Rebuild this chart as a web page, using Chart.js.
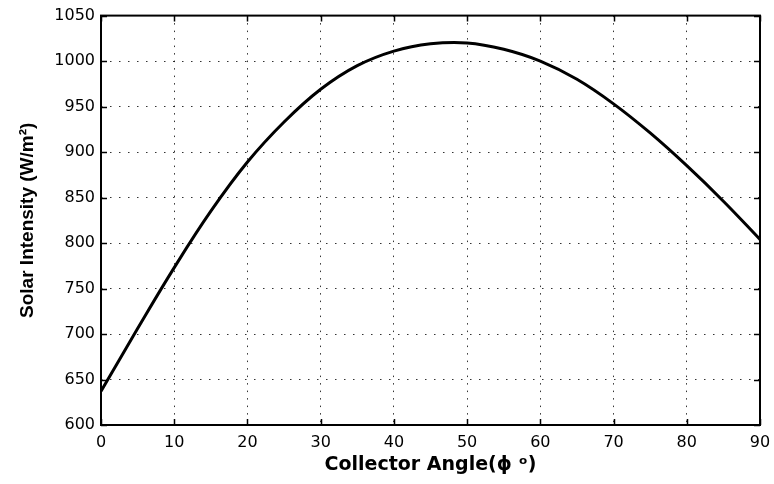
<!DOCTYPE html>
<html lang="en">
<head>
    <meta charset="UTF-8">
    <title>Solar Intensity vs Collector Angle</title>
    <script src="https://cdn.jsdelivr.net/npm/chart.js"></script>
    <style>
        body {
            margin: 0;
            padding: 0;
            background-color: #ffffff;
        }
        #chart-box {
            width: 774px;
            height: 484px;
        }
    </style>
</head>
<body>
    <div id="chart-box">
        <canvas id="solarChart"></canvas>
    </div>

    <script>
        // values
        const angles = [0, 5, 10, 15, 20, 25, 30, 35, 40, 45, 50, 55, 60, 65, 70, 75, 80, 85, 90];
        const intensity = [637, 706, 773, 835, 889, 933, 969, 995, 1011, 1019, 1020, 1013, 1000, 980, 953, 921, 885, 846, 804];
        const xTicks = [0, 10, 20, 30, 40, 50, 60, 70, 80, 90];
        const yTicks = [600, 650, 700, 750, 800, 850, 900, 950, 1000, 1050];

        const tickFont = { family: 'DejaVu Sans', size: 16 };

        // matlab style box with inward ticks on all four sides
        const boxPlugin = {
            id: 'boxPlugin',
            afterDatasetsDraw(chart) {
                const { ctx, chartArea: a, scales } = chart;
                const len = 6;
                ctx.save();
                ctx.strokeStyle = '#000';
                ctx.lineWidth = 1.5;
                ctx.beginPath();
                xTicks.forEach(v => {
                    const px = Math.round(scales.x.getPixelForValue(v)) + 0.5;
                    ctx.moveTo(px, a.bottom); ctx.lineTo(px, a.bottom - len);
                    ctx.moveTo(px, a.top); ctx.lineTo(px, a.top + len);
                });
                yTicks.forEach(v => {
                    const py = Math.round(scales.y.getPixelForValue(v)) + 0.5;
                    ctx.moveTo(a.left, py); ctx.lineTo(a.left + len, py);
                    ctx.moveTo(a.right, py); ctx.lineTo(a.right - len, py);
                });
                ctx.stroke();
                ctx.lineWidth = 2;
                ctx.strokeRect(a.left, a.top, a.right - a.left, a.bottom - a.top);
                ctx.restore();
            }
        };

        const ctx = document.getElementById('solarChart').getContext('2d');
        new Chart(ctx, {
            type: 'line',
            data: {
                datasets: [{
                    data: angles.map((a, i) => ({ x: a, y: intensity[i] })),
                    borderColor: '#000',
                    borderWidth: 3,
                    pointRadius: 0,
                    tension: 0.4,
                    fill: false
                }]
            },
            options: {
                responsive: true,
                maintainAspectRatio: false,
                animation: false,
                layout: {
                    padding: { top: 15, right: 14, left: 0, bottom: 0 }
                },
                plugins: {
                    legend: { display: false },
                    tooltip: { enabled: false }
                },
                scales: {
                    x: {
                        type: 'linear',
                        min: 0,
                        max: 90,
                        afterBuildTicks: s => { s.ticks = xTicks.map(v => ({ value: v })); },
                        afterFit: s => {
                            s.height = 59;
                            s.paddingLeft = 0;
                            s.paddingRight = 0;
                        },
                        ticks: {
                            color: '#000',
                            font: tickFont,
                            padding: 8,
                            maxRotation: 0,
                            callback: v => String(v)
                        },
                        grid: {
                            color: 'rgba(0,0,0,0.8)',
                            lineWidth: 1,
                            drawTicks: false
                        },
                        border: { display: false, dash: [1.5, 6] },
                        title: {
                            display: true,
                            text: 'Collector Angle(ϕ ᵒ)',
                            color: '#000',
                            font: { family: 'DejaVu Sans', size: 19, weight: 'bold' },
                            padding: { top: 0, bottom: 8 }
                        }
                    },
                    y: {
                        min: 600,
                        max: 1050,
                        afterBuildTicks: s => { s.ticks = yTicks.map(v => ({ value: v })); },
                        afterFit: s => { s.width = 101; },
                        ticks: {
                            color: '#000',
                            font: tickFont,
                            padding: 6,
                            callback: v => String(v)
                        },
                        grid: {
                            color: 'rgba(0,0,0,0.8)',
                            lineWidth: 1,
                            drawTicks: false
                        },
                        border: { display: false, dash: [1.5, 7.5] },
                        title: {
                            display: true,
                            text: 'Solar Intensity (W/m²)',
                            color: '#000',
                            font: { family: 'Liberation Sans', size: 19, weight: 'bold' },
                            padding: { top: 16, bottom: 0 }
                        }
                    }
                }
            },
            plugins: [boxPlugin]
        });
    </script>
</body>
</html>
